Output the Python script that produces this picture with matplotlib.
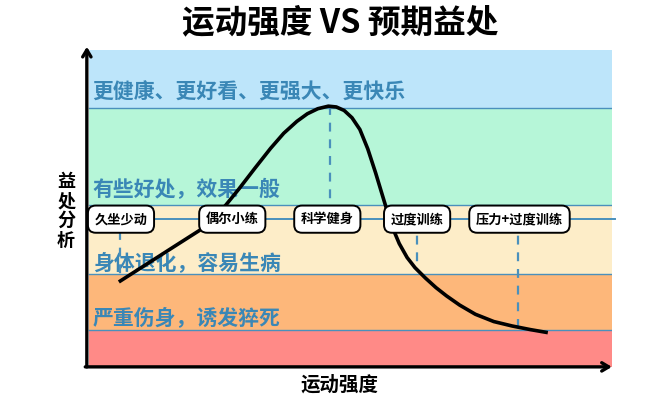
import matplotlib
matplotlib.use("Agg")
import matplotlib.pyplot as plt

plt.rcParams['font.family'] = ['Noto Sans CJK SC', 'DejaVu Sans']

title = "运动强度 VS 预期益处"
x_label = "运动强度"
y_label = "益处分析"

# benefit bands (lower, upper) in benefit units, with colours
band_edges = [0, 11.7, 29.3, 51.1, 81.7, 100]
band_colors = ["#FF8A87", "#FDB77A", "#FDEDC8", "#B6F6D8", "#BDE5FA"]
band_texts = ["", "严重伤身，诱发猝死", "身体退化，容易生病", "有些好处，效果一般", "更健康、更好看、更强大、更快乐"]
band_text_y = [None, 15.5, 33.0, 56.0, 86.5]

# intensity levels on the reference line
level_line_y = 46.6
level_names = ["久坐少动", "偶尔小练", "科学健身", "过度训练", "压力+过度训练"]
level_x = [6.5, 27.7, 45.8, 62.9, 82.4]

# dashed drop lines: x, top, bottom
dash_x = [6.3, 46.3, 62.8, 82.1]
dash_top = [42.9, 82.3, 46.6, 46.6]
dash_bottom = [26.8, 46.6, 31.5, 12.6]

# benefit curve
curve_x = [6.1, 12.0, 17.0, 21.5, 24.0, 26.5, 29.0, 32.0, 35.0, 37.5, 40.0, 42.0, 44.0,
           46.0, 47.5, 49.0, 50.5, 52.0, 53.5, 55.0, 56.5, 58.0, 59.5, 61.0, 62.5,
           64.5, 66.5, 68.5, 71.0, 74.0, 77.5, 81.0, 84.5, 87.8]
curve_y = [26.8, 33.05, 38.35, 43.1, 46.6, 51.1, 56.2, 62.65, 68.95, 73.7, 77.45, 79.85, 81.45,
           82.25, 82.0, 80.9, 78.6, 74.9, 68.8, 61.2, 53.0, 44.8, 38.9, 34.5, 31.3,
           28.0, 25.0, 22.4, 19.5, 16.6, 14.3, 12.9, 11.75, 10.8]

fig = plt.figure(figsize=(6.68, 4.09), dpi=100)
ax = fig.add_axes([0.130, 0.103, 0.786, 0.775])
ax.set_xlim(0, 100)
ax.set_ylim(0, 100)
ax.axis('off')

text_color = "#3A87B6"
line_color = "#4A90BC"

for i, c in enumerate(band_colors):
    lo, hi = band_edges[i], band_edges[i + 1]
    ax.axhspan(lo, hi, xmin=0.005, xmax=1.0, color=c, zorder=0, lw=0)
    if i > 0:
        ax.plot([0.5, 100], [lo, lo], color=line_color, lw=1.0, zorder=1)
    if band_texts[i]:
        ax.text(1.1, band_text_y[i], band_texts[i], color=text_color, fontsize=15,
                fontweight='bold', va='center', ha='left', zorder=2)

# reference line
ax.plot([0.5, 100.5], [level_line_y, level_line_y], color=line_color, lw=1.4,
        zorder=2, clip_on=False)

# dashed lines
for xd, y0, y1 in zip(dash_x, dash_top, dash_bottom):
    ax.plot([xd, xd], [y0, y1], color=line_color, lw=1.6, ls=(0, (4, 3.5)), zorder=3)

# curve
ax.plot(curve_x, curve_y, color="black", lw=2.6, zorder=4,
        solid_capstyle='butt', solid_joinstyle='round')

# boxes
for name, xv in zip(level_names, level_x):
    ax.text(xv, level_line_y, name, fontsize=9.5, ha='center', va='center',
            color='black', zorder=6, fontweight='bold',
            bbox=dict(boxstyle='round,pad=0.5,rounding_size=0.6', fc='white',
                      ec='black', lw=1.4))

# axes arrows
ax.annotate('', xy=(0, 1.01), xytext=(0, 0), xycoords='axes fraction',
            arrowprops=dict(arrowstyle='->,head_length=0.5,head_width=0.3', lw=2.4,
                            color='black', shrinkA=0, shrinkB=0), zorder=7)
ax.annotate('', xy=(1.0, 0), xytext=(-0.003, 0), xycoords='axes fraction',
            arrowprops=dict(arrowstyle='->,head_length=0.5,head_width=0.3', lw=2.4,
                            color='black', shrinkA=0, shrinkB=0), zorder=7)

fig.text(0.51, 0.945, title, ha='center', va='center', fontsize=23.5, fontweight='bold')
fig.text(0.508, 0.058, x_label, ha='center', va='center', fontsize=14, fontweight='bold')
fig.text(0.099, 0.485, "\n".join(y_label), ha='center', va='center', fontsize=13,
         fontweight='bold', linespacing=1.05)

fig.savefig("out.png", dpi=100)
